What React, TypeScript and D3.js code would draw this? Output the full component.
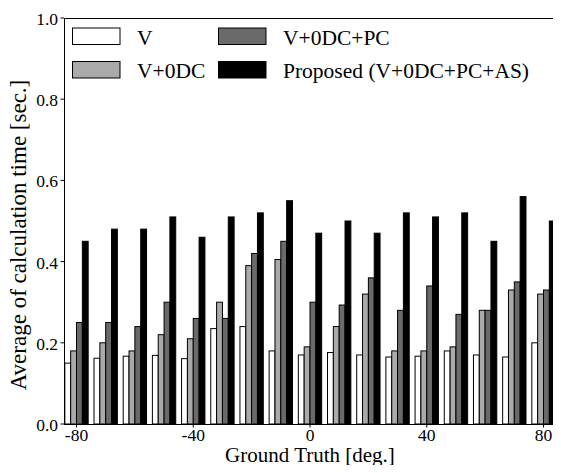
import React from 'react';
import * as d3 from 'd3';

const angles = [-80, -70, -60, -50, -40, -30, -20, -10, 0, 10, 20, 30, 40, 50, 60, 70, 80];
const seriesNames = ['V', 'V+0DC', 'V+0DC+PC', 'Proposed (V+0DC+PC+AS)'];
const seriesV = [0.15, 0.162, 0.167, 0.169, 0.161, 0.235, 0.24, 0.18, 0.17, 0.176, 0.17, 0.165, 0.167, 0.18, 0.17, 0.165, 0.2];
const seriesV0DC = [0.18, 0.2, 0.18, 0.22, 0.21, 0.3, 0.39, 0.405, 0.19, 0.24, 0.32, 0.18, 0.18, 0.19, 0.28, 0.33, 0.32];
const seriesV0DCPC = [0.25, 0.25, 0.24, 0.3, 0.26, 0.26, 0.42, 0.45, 0.3, 0.293, 0.36, 0.28, 0.34, 0.27, 0.28, 0.35, 0.33];
const seriesProposed = [0.45, 0.48, 0.48, 0.51, 0.46, 0.51, 0.52, 0.55, 0.47, 0.5, 0.47, 0.52, 0.51, 0.52, 0.45, 0.56, 0.5];
const colors = ['#ffffff', '#aaaaaa', '#6a6a6a', '#000000'];
const yTicks = [0, 0.2, 0.4, 0.6, 0.8, 1.0];
const xTicks = [-80, -40, 0, 40, 80];

const W = 561;
const H = 473;
const FONT = 'Liberation Serif';

const left = 64, right = 563, top = 18, bottom = 424;
const x = d3.scaleLinear().domain([-80, 80]).range([76.5, 543.5]);
const y = d3.scaleLinear().domain([0, 1]).range([bottom, top]);
const step = x(10) - x(0);
const barW = (step * 0.8) / 4;
const allSeries = [seriesV, seriesV0DC, seriesV0DCPC, seriesProposed];

// legend layout: two columns, two rows (column-major like matplotlib)
const legendPos = [
  { sx: 72.5, ty: 28 },
  { sx: 72.5, ty: 61.5 },
  { sx: 218.5, ty: 28 },
  { sx: 218.5, ty: 61.5 },
];

const App = () => (
  <div style={{ margin: -8, fontFamily: FONT }}>
    <svg width={W} height={H} style={{ display: 'block', fontFamily: FONT }}>
      <style>{`text { font-family: 'Liberation Serif', serif; }`}</style>
      <g>
        {allSeries.map((vals, si) =>
          vals.map((d, i) => (
            <rect
              key={`${si}-${i}`}
              x={x(angles[i]) + (si - 2) * barW}
              y={y(d)}
              width={barW}
              height={y(0) - y(d)}
              fill={colors[si]}
              stroke="#000"
              strokeWidth={1}
            />
          ))
        )}
      </g>
      <rect x={left + 0.5} y={top + 0.5} width={right - left - 1} height={bottom - top} fill="none" stroke="#000" />

      {yTicks.map(t => (
        <g key={t}>
          <line x1={left - 3.5} x2={left} y1={y(t)} y2={y(t)} stroke="#000" />
          <text x={left - 6} y={y(t) + 7} textAnchor="end" fontFamily={FONT} fontSize={17.5}>{t.toFixed(1)}</text>
        </g>
      ))}

      {xTicks.map(t => (
        <g key={t}>
          <line x1={x(t)} x2={x(t)} y1={bottom} y2={bottom + 3.5} stroke="#000" />
          <text x={x(t)} y={441} textAnchor="middle" fontFamily={FONT} fontSize={17.5}>{t}</text>
        </g>
      ))}

      <text x={x(0)} y={462} textAnchor="middle" fontFamily={FONT} fontSize={21}>Ground Truth [deg.]</text>
      <text transform="translate(26, 235) rotate(-90)" textAnchor="middle" fontFamily={FONT} fontSize={23}>
        Average of calculation time [sec.]
      </text>

      {seriesNames.map((name, i) => {
        const p = legendPos[i];
        return (
          <g key={name}>
            <rect x={p.sx} y={p.ty} width={47.5} height={16.5} fill={colors[i]} stroke="#000" />
            <text x={p.sx + 64.5} y={p.ty + 16.5} fontFamily={FONT} fontSize={21.5}>{name}</text>
          </g>
        );
      })}
    </svg>
  </div>
);

export default App;
